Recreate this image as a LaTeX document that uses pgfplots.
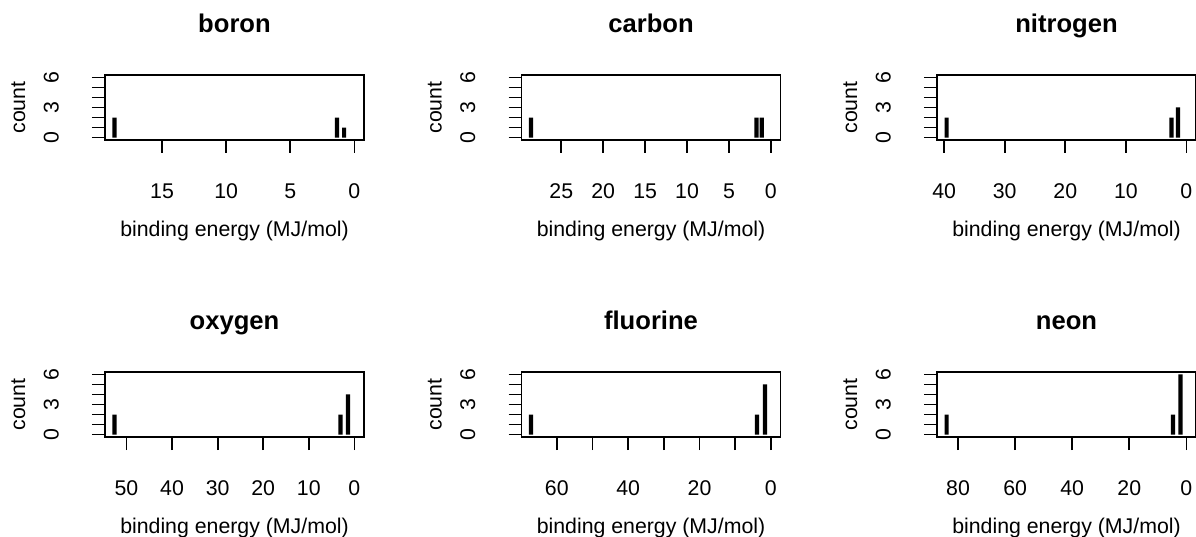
\documentclass[border=0pt]{standalone}
\usepackage{fontspec}
\setmainfont{Liberation Sans}
\usepackage{pgfplots}
\pgfplotsset{compat=1.18}
\newcommand\lab{\fontsize{21.3bp}{25bp}\selectfont}
\newcommand\ttl{\fontsize{25.6bp}{30bp}\selectfont\bfseries}
\pgfplotsset{panel/.style={
  scale only axis, width=259bp, height=65bp, anchor=south west,
  x dir=reverse, ymin=-0.24, ymax=6.24,
  ytick={0,1,2,3,4,5,6}, yticklabels={0,,,3,,,6},
  tick pos=left, tick align=outside, major tick length=13bp,
  enlargelimits=false, clip=false,
  line width=1.8bp,
  axis line style={line width=1.8bp},
  major tick style={line width=1.8bp, black},
  tick label style={font=\lab},
  xticklabel style={anchor=base, yshift=-45.7bp},
  yticklabel style={rotate=90, anchor=base},
  yticklabel shift=33.3bp,
  ybar, bar width=4.2bp,
}}
\begin{document}
\begin{tikzpicture}
\path[use as bounding box] (0,0) rectangle (1196bp,537bp);
% boron
\begin{axis}[panel, at={(105bp,397bp)}, xmin=-0.748, xmax=19.448,
  xtick={0,5,10,15}, xticklabels={0,5,10,15}]
\addplot[fill=black, draw=none] coordinates {(18.7,2) (1.36,2) (0.80,1)};
\end{axis}
% carbon
\begin{axis}[panel, at={(521.5bp,397bp)}, xmin=-1.144, xmax=29.744,
  xtick={0,5,10,15,20,25}, xticklabels={0,5,10,15,20,25}]
\addplot[fill=black, draw=none] coordinates {(28.6,2) (1.72,2) (1.09,2)};
\end{axis}
% nitrogen
\begin{axis}[panel, at={(937bp,397bp)}, xmin=-1.584, xmax=41.184,
  xtick={0,10,20,30,40}, xticklabels={0,10,20,30,40}]
\addplot[fill=black, draw=none] coordinates {(39.6,2) (2.45,2) (1.40,3)};
\end{axis}
% oxygen
\begin{axis}[panel, at={(105bp,100bp)}, xmin=-2.104, xmax=54.704,
  xtick={0,10,20,30,40,50}, xticklabels={0,10,20,30,40,50}]
\addplot[fill=black, draw=none] coordinates {(52.6,2) (3.04,2) (1.40,4)};
\end{axis}
% fluorine
\begin{axis}[panel, at={(521.5bp,100bp)}, xmin=-2.688, xmax=69.888,
  xtick={0,10,20,30,40,50,60}, xticklabels={0,,20,,40,,60}]
\addplot[fill=black, draw=none] coordinates {(67.2,2) (3.88,2) (1.68,5)};
\end{axis}
% neon
\begin{axis}[panel, at={(937bp,100bp)}, xmin=-3.36, xmax=87.36,
  xtick={0,20,40,60,80}, xticklabels={0,20,40,60,80}]
\addplot[fill=black, draw=none] coordinates {(84.0,2) (4.68,2) (2.08,6)};
\end{axis}
% titles
\node[anchor=base, font=\ttl] at (234.5bp,504bp) {boron};
\node[anchor=base, font=\ttl] at (651bp,504bp) {carbon};
\node[anchor=base, font=\ttl] at (1066.5bp,504bp) {nitrogen};
\node[anchor=base, font=\ttl] at (234.5bp,207bp) {oxygen};
\node[anchor=base, font=\ttl] at (651bp,207bp) {fluorine};
\node[anchor=base, font=\ttl] at (1066.5bp,207bp) {neon};
% x labels
\foreach \cx in {234.5,651,1066.5}{
  \node[anchor=base, font=\lab] at (\cx bp,300.3bp) {binding energy (MJ/mol)};
  \node[anchor=base, font=\lab] at (\cx bp,3.2bp) {binding energy (MJ/mol)};
}
% y labels
\foreach \lx in {25,441.5,857}{
  \node[anchor=base, rotate=90, font=\lab] at (\lx bp,429.5bp) {count};
  \node[anchor=base, rotate=90, font=\lab] at (\lx bp,132.5bp) {count};
}
\end{tikzpicture}
\end{document}
